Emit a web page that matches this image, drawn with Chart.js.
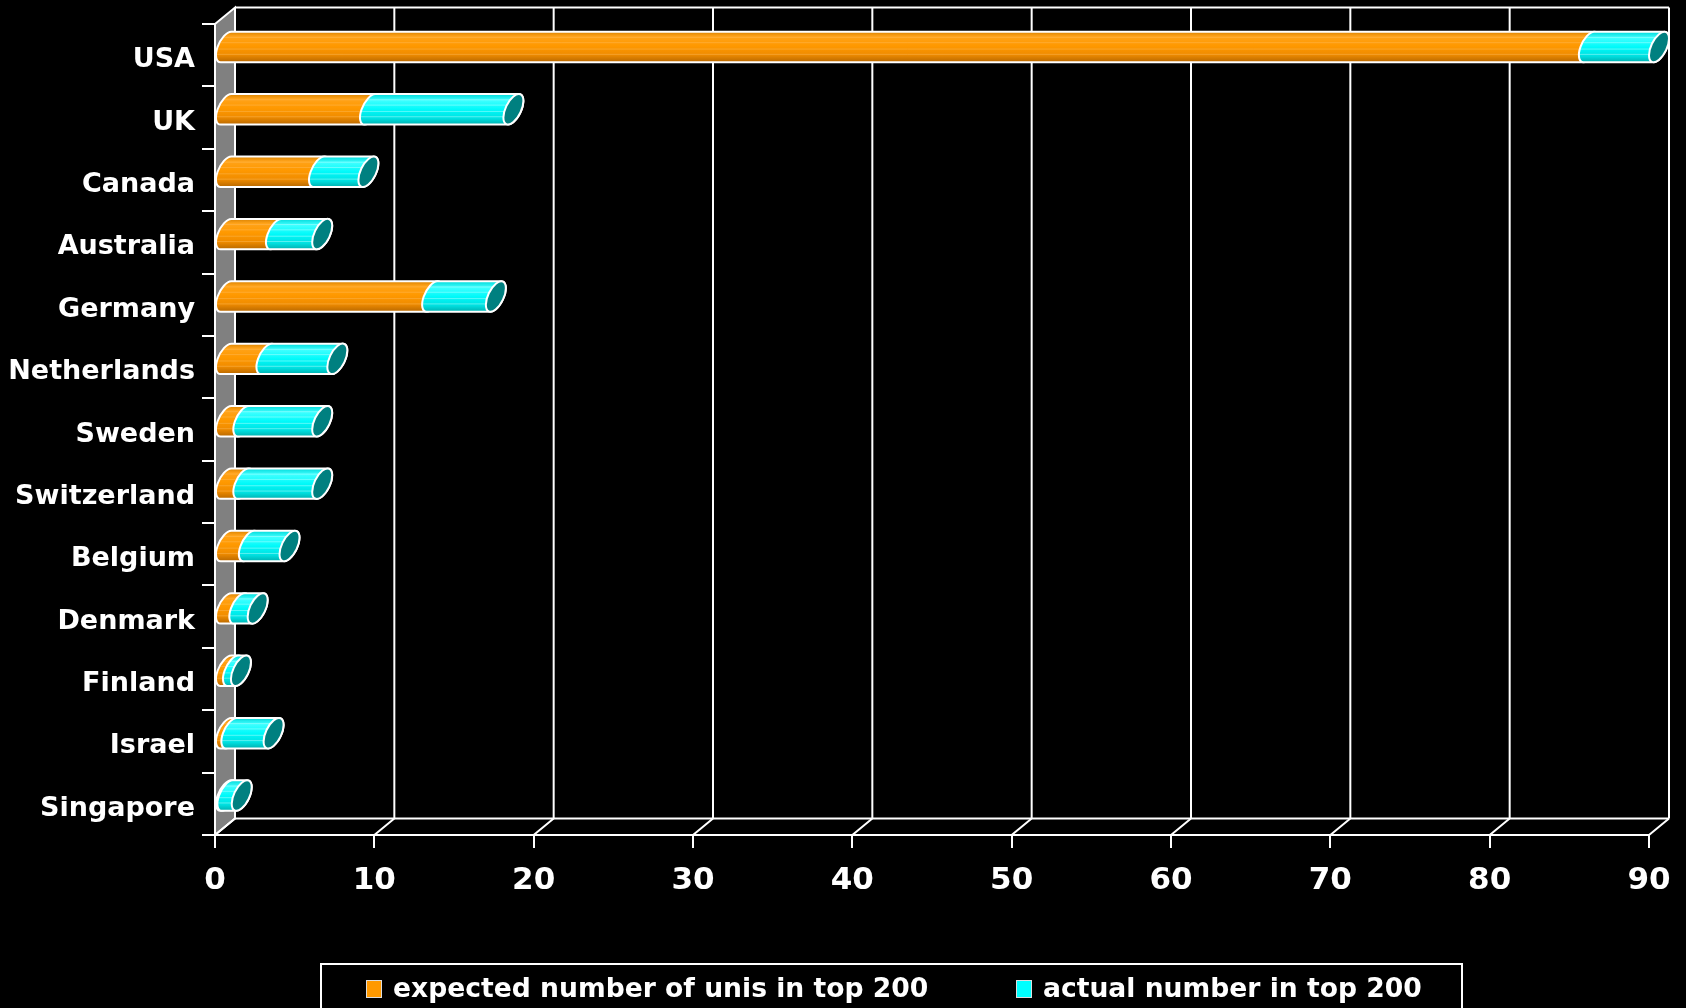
<!DOCTYPE html>
<html>
<head>
<meta charset="utf-8">
<script src="https://cdn.jsdelivr.net/npm/chart.js@4.4.1/dist/chart.umd.min.js"></script>
<style>
  html, body { margin: 0; padding: 0; background: #000; }
  #wrap { position: relative; width: 1686px; height: 1008px; }
</style>
</head>
<body>
<div id="wrap"><canvas id="chart" width="1686" height="1008"></canvas></div>
<script>
// data
const countries = ["USA", "UK", "Canada", "Australia", "Germany", "Netherlands", "Sweden",
  "Switzerland", "Belgium", "Denmark", "Finland", "Israel", "Singapore"];
const expected = [85.6, 9.1, 5.9, 3.2, 13.0, 2.6, 1.15, 1.15, 1.5, 0.9, 0.5, 0.4, 0.15];
const actual = [4.4, 9.0, 3.1, 2.9, 4.0, 4.45, 4.95, 4.95, 2.55, 1.15, 0.5, 2.65, 0.9];
const seriesNames = ["expected number of unis in top 200", "actual number in top 200"];

const FONT = "'DejaVu Sans', Verdana, sans-serif";
const DEPTH = { x: 20, y: -16.5 }; // schuine diepte van de 3D-doos

// body kleuren per reeks
const bodyStops = [
  [[0, "#D98200"], [0.15, "#FFA31A"], [0.45, "#FF9900"], [0.75, "#F08C00"], [1, "#B86800"]],
  [[0, "#00D8D8"], [0.2, "#40FFFF"], [0.5, "#00FAFA"], [0.8, "#00E0E0"], [1, "#00B0B0"]],
];
const capColors = ["#C07000", "#008080"];

// halve ellips op positie (cx, cy), van hoek a0 naar a1
function ellipseArc(ctx, cx, cy, ry, a0, a1) {
  const bx = DEPTH.x / 2, by = DEPTH.y / 2;
  ctx.save();
  ctx.transform(bx, by, 0, ry, cx, cy);
  ctx.arc(0, 0, 1, a0, a1, false);
  ctx.restore();
}

function drawCylinder(ctx, x0, x1, cy, ry, idx, withCap) {
  const by = DEPTH.y / 2;
  const tBot = Math.atan2(ry, by);
  const tTop = tBot - Math.PI;
  const half = Math.sqrt(ry * ry + by * by);

  const grad = ctx.createLinearGradient(0, cy - half, 0, cy + half);
  bodyStops[idx].forEach(([o, c]) => grad.addColorStop(o, c));

  ctx.beginPath();
  ellipseArc(ctx, x0, cy, ry, tBot, tTop + 2 * Math.PI);
  ellipseArc(ctx, x1, cy, ry, tTop, tBot);
  ctx.closePath();
  ctx.fillStyle = grad;
  ctx.fill();

  // dunne strepen in de lengte
  ctx.save();
  ctx.clip();
  ctx.strokeStyle = idx === 0 ? "rgba(255,200,120,0.35)" : "rgba(200,255,255,0.45)";
  ctx.lineWidth = 1;
  [-0.45, -0.2, 0.1, 0.35].forEach((f) => {
    const yy = cy + f * half + f * 6;
    ctx.beginPath();
    ctx.moveTo(x0 - 20, yy);
    ctx.lineTo(x1 + 20, yy);
    ctx.stroke();
  });
  ctx.restore();

  ctx.beginPath();
  ellipseArc(ctx, x0, cy, ry, tBot, tTop + 2 * Math.PI);
  ellipseArc(ctx, x1, cy, ry, tTop, tBot);
  ctx.closePath();
  ctx.strokeStyle = "#fff";
  ctx.lineWidth = 2;
  ctx.stroke();

  if (withCap) {
    ctx.beginPath();
    ellipseArc(ctx, x1, cy, ry, 0, 2 * Math.PI);
    ctx.fillStyle = capColors[idx];
    ctx.fill();
    ctx.strokeStyle = "#fff";
    ctx.lineWidth = 2;
    ctx.stroke();
  }
}

// wanden, vloer en rasterlijnen
const box3d = {
  id: "box3d",
  beforeDatasetsDraw(chart) {
    const { ctx, chartArea: a, scales } = chart;
    const xs = scales.x;
    const dx = DEPTH.x, dy = DEPTH.y;
    ctx.save();
    ctx.lineWidth = 2;
    ctx.strokeStyle = "#fff";

    // linker zijwand
    ctx.beginPath();
    ctx.moveTo(a.left, a.top);
    ctx.lineTo(a.left + dx, a.top + dy);
    ctx.lineTo(a.left + dx, a.bottom + dy);
    ctx.lineTo(a.left, a.bottom);
    ctx.closePath();
    ctx.fillStyle = "#808080";
    ctx.fill();
    ctx.stroke();

    // achterwand rasterlijnen + vloerdiagonalen
    xs.ticks.forEach((t) => {
      const xf = xs.getPixelForValue(t.value);
      ctx.beginPath();
      ctx.moveTo(xf + dx, a.top + dy);
      ctx.lineTo(xf + dx, a.bottom + dy);
      ctx.moveTo(xf, a.bottom);
      ctx.lineTo(xf + dx, a.bottom + dy);
      ctx.stroke();
    });

    const xEnd = xs.getPixelForValue(xs.max);
    ctx.beginPath();
    ctx.moveTo(a.left + dx, a.top + dy);
    ctx.lineTo(xEnd + dx, a.top + dy);
    ctx.moveTo(a.left + dx, a.bottom + dy);
    ctx.lineTo(xEnd + dx, a.bottom + dy);
    ctx.moveTo(a.left, a.bottom);
    ctx.lineTo(xEnd, a.bottom);
    ctx.stroke();
    ctx.restore();
  },
  beforeDatasetDraw() {
    return false; // standaard balken niet tekenen, cilinders komen hieronder
  },
  afterDatasetsDraw(chart) {
    const { ctx } = chart;
    const m0 = chart.getDatasetMeta(0).data;
    const m1 = chart.getDatasetMeta(1).data;
    ctx.save();
    for (let i = 0; i < countries.length; i++) {
      const e0 = m0[i], e1 = m1[i];
      const cy = e0.y + DEPTH.y / 2;
      const ry = e0.height / 2;
      const off = DEPTH.x / 2;
      drawCylinder(ctx, e0.base + off, e0.x + off, cy, ry, 0, false);
      drawCylinder(ctx, e1.base + off, e1.x + off, cy, ry, 1, true);
    }
    ctx.restore();
  },
};

// legenda met kader
const legendBox = {
  id: "legendBox",
  afterDraw(chart) {
    const { ctx } = chart;
    ctx.save();
    ctx.strokeStyle = "#fff";
    ctx.lineWidth = 2;
    ctx.strokeRect(321, 964, 1141, 60);
    ctx.font = "bold 26.6px " + FONT;
    ctx.textBaseline = "middle";
    const items = [
      { x: 366, color: "#FF9900" },
      { x: 1016, color: "#00FFFF" },
    ];
    items.forEach((it, i) => {
      ctx.fillStyle = it.color;
      ctx.fillRect(it.x, 980, 16, 18);
      ctx.strokeStyle = "#ddd";
      ctx.lineWidth = 1;
      ctx.strokeRect(it.x + 0.5, 980.5, 15, 17);
      ctx.fillStyle = "#fff";
      ctx.fillText(seriesNames[i], it.x + 27, 990);
    });
    ctx.restore();
  },
};

new Chart(document.getElementById("chart"), {
  type: "bar",
  data: {
    labels: countries,
    datasets: [
      { label: seriesNames[0], data: expected, backgroundColor: "#FF9900" },
      { label: seriesNames[1], data: actual, backgroundColor: "#00FFFF" },
    ],
  },
  options: {
    indexAxis: "y",
    responsive: false,
    animation: false,
    layout: { padding: { top: 24, right: 37, left: 0, bottom: 0 } },
    datasets: { bar: { categoryPercentage: 1, barPercentage: 0.41 } },
    plugins: { legend: { display: false }, tooltip: { enabled: false } },
    scales: {
      x: {
        type: "linear",
        stacked: true,
        min: 0,
        max: 90,
        ticks: {
          stepSize: 10,
          color: "#fff",
          padding: 14,
          font: { family: FONT, size: 31, weight: "bold" },
        },
        grid: { drawOnChartArea: false, tickLength: 13, color: "#fff", lineWidth: 2 },
        border: { display: false },
        afterFit: (s) => { s.height = 173; },
      },
      y: {
        stacked: true,
        offset: true,
        ticks: {
          color: "#fff",
          padding: 7,
          labelOffset: 5,
          font: { family: FONT, size: 27, weight: "bold" },
        },
        grid: { offset: true, drawOnChartArea: false, tickLength: 13, color: "#fff", lineWidth: 2 },
        border: { display: false },
        afterFit: (s) => { s.width = 215; },
      },
    },
  },
  plugins: [box3d, legendBox],
});
</script>
</body>
</html>
